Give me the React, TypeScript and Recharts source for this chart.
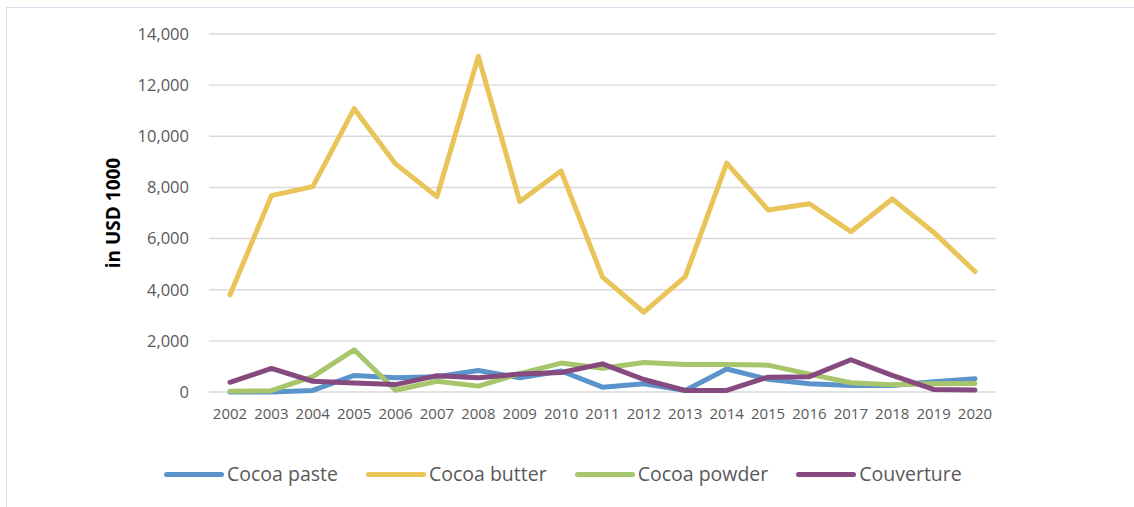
import React from 'react';
import { LineChart, Line, XAxis, YAxis, CartesianGrid, Legend } from 'recharts';

// Years on the category axis
const years = [
  '2002', '2003', '2004', '2005', '2006', '2007', '2008', '2009', '2010', '2011',
  '2012', '2013', '2014', '2015', '2016', '2017', '2018', '2019', '2020',
];

// Export values, in USD 1000
const cocoaPaste = [0, 0, 60, 650, 560, 600, 840, 560, 820, 190, 320, 60, 900, 500, 320, 250, 250, 400, 520];
const cocoaButter = [3800, 7680, 8030, 11080, 8920, 7640, 13120, 7450, 8640, 4490, 3120, 4510, 8950, 7120, 7360, 6270, 7550, 6250, 4710];
const cocoaPowder = [30, 50, 600, 1650, 70, 420, 230, 720, 1130, 930, 1150, 1080, 1080, 1050, 700, 360, 280, 320, 330];
const couverture = [380, 920, 420, 350, 290, 640, 560, 700, 760, 1100, 490, 60, 60, 580, 600, 1260, 650, 100, 80];

const yTicks = [0, 2000, 4000, 6000, 8000, 10000, 12000, 14000];

const seriesList = [
  { key: 'paste', name: 'Cocoa paste', color: '#5B94CA', values: cocoaPaste },
  { key: 'butter', name: 'Cocoa butter', color: '#E9C459', values: cocoaButter },
  { key: 'powder', name: 'Cocoa powder', color: '#A7C56B', values: cocoaPowder },
  { key: 'couverture', name: 'Couverture', color: '#874A7F', values: couverture },
];

const data = years.map((year, i) => {
  const row: Record<string, string | number> = { year };
  seriesList.forEach((s) => {
    row[s.key] = s.values[i];
  });
  return row;
});

const FONT = '"Open Sans", sans-serif';
const TEXT = '#595959';

const formatThousands = (v: number) => v.toLocaleString('en-US');

const renderLegend = () => (
  <div style={{ display: 'flex', alignItems: 'center', fontFamily: FONT, fontSize: 19.5, color: TEXT }}>
    {seriesList.map((s) => (
      <div key={s.key} style={{ display: 'flex', alignItems: 'center', marginRight: 28 }}>
        <div style={{ width: 60, height: 5, borderRadius: 3, background: s.color, marginRight: 3 }} />
        <span style={{ lineHeight: '24px' }}>{s.name}</span>
      </div>
    ))}
  </div>
);

const renderYLabel = (props: any) => {
  const vb = props.viewBox || {};
  const cx = vb.x + vb.width - 96;
  const cy = vb.y + vb.height / 2;
  return (
    <text
      x={cx}
      y={cy}
      transform={`rotate(-90 ${cx} ${cy})`}
      textAnchor="middle"
      dominantBaseline="central"
      fontFamily={FONT}
      fontWeight={700}
      fontSize={19}
      fill="#000"
    >
      in USD 1000
    </text>
  );
};

export default function App() {
  return (
    <div style={{ position: 'absolute', left: 0, top: 0, width: 1134, height: 507, background: '#fff' }}>
      <div
        style={{
          position: 'absolute',
          left: 6,
          top: 7,
          right: -2,
          bottom: -2,
          borderTop: '1px solid #D9DCEC',
          borderLeft: '1px solid #D9DCEC',
        }}
      />
      <LineChart
        width={1134}
        height={507}
        data={data}
        margin={{ top: 34, right: 138, bottom: 61, left: 129 }}
        style={{ position: 'absolute', left: 0, top: 0 }}
      >
        <CartesianGrid vertical={false} stroke="#D9D9D9" strokeWidth={1.4} />
        <XAxis
          dataKey="year"
          height={30}
          padding={{ left: 21, right: 21 }}
          axisLine={false}
          tickLine={false}
          tickSize={0}
          tickMargin={16}
          interval={0}
          tick={{ fontFamily: FONT, fontSize: 15, fill: TEXT }}
        />
        <YAxis
          width={80}
          domain={[0, 14000]}
          ticks={yTicks}
          axisLine={false}
          tickLine={false}
          tickSize={0}
          tickMargin={20}
          tickFormatter={formatThousands}
          tick={{ fontFamily: FONT, fontSize: 16.5, fill: TEXT }}
          label={{ content: renderYLabel }}
        />
        <Legend
          content={renderLegend}
          wrapperStyle={{ position: 'absolute', left: 164, top: 462, width: 900, height: 24 }}
        />
        {seriesList.map((s) => (
          <Line
            key={s.key}
            type="linear"
            dataKey={s.key}
            name={s.name}
            stroke={s.color}
            strokeWidth={5}
            strokeLinecap="round"
            strokeLinejoin="round"
            dot={false}
            activeDot={false}
            isAnimationActive={false}
          />
        ))}
      </LineChart>
    </div>
  );
}
